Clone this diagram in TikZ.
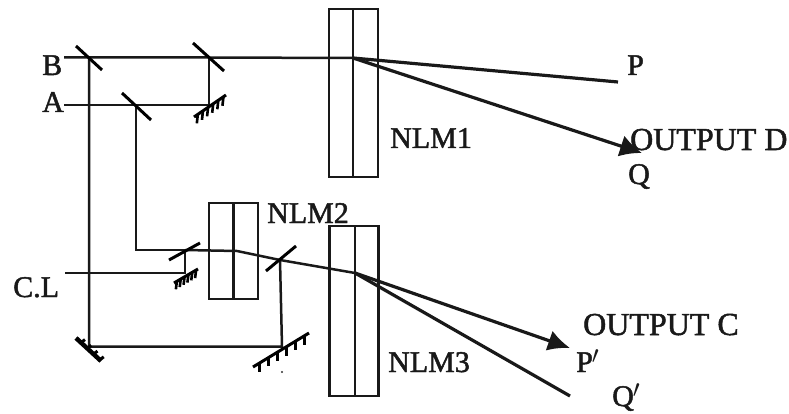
\documentclass[tikz,border=0pt]{standalone}
\usepackage{fontspec}
\setmainfont{Liberation Serif}
\newfontfamily\labfont[FakeBold=1.6]{Liberation Serif}
\usetikzlibrary{calc,arrows.meta}
\tikzset{
  beam/.style={line width=2.5pt,black!90},
  thick beam/.style={line width=3.2pt,black!90},
  mirror/.style={line width=3pt,black},
  crystal/.style={draw=black!90,line width=2.6pt,fill=none,inner sep=0pt,outer sep=0pt,minimum width=49pt,anchor=north west},
  divider/.style={line width=2.8pt,black!90},
  lab/.style={font=\labfont\fontsize{30}{30}\selectfont,inner sep=0pt,anchor=base west,black!90},
  outlab/.style={lab,font=\labfont\fontsize{32}{32}\selectfont},
  tick/.style={line width=2.6pt,black}
}
\newcommand{\hatchmirror}[4]{%
  \draw[mirror] (#1) -- (#2);
  \foreach \t in {0.12,0.28,...,0.95}
    \draw[tick] ($(#1)!\t!(#2)$) -- ++(#3,#4);
}
\newcommand{\primemark}{\kern-1pt\raisebox{0.28em}{$\prime$}}
\begin{document}
\begin{tikzpicture}[x=1pt,y=-1pt]
\useasboundingbox (0,0) rectangle (789,414);
% crystals
\node[crystal,minimum height=168pt] (nlm1) at (329,9) {};
\node[crystal,minimum height=170pt] (nlm3) at (329.5,226) {};
\node[crystal,minimum height=96pt] (nlm2) at (209,203) {};
\draw[divider] (nlm1.north) ++(-0.5,0) coordinate (d1t) -- (d1t |- nlm1.south);
\draw[divider] (nlm3.north) ++(1,0) coordinate (d3t) -- (d3t |- nlm3.south);
\draw[divider] (nlm2.north) coordinate (d2t) -- (d2t |- nlm2.south);
% beam points
\coordinate (Bs) at (64,57.5);
\coordinate (Mb) at (89,57.5);
\coordinate (M2) at (209,57.5);
\coordinate (C1) at (353,58);
\coordinate (M3) at (209,105);
\coordinate (As) at (64,105);
\coordinate (Ma) at (136,105);
\coordinate (Ka) at (136,250);
\coordinate (M4) at (185,250);
\coordinate (K2) at (237,251);
\coordinate (M5) at (280,260);
\coordinate (C3) at (355,273);
\coordinate (M6) at (185,273);
\coordinate (Cs) at (65,273);
\coordinate (M7) at (89,346.5);
\coordinate (M8) at (282,346.5);
\coordinate (Pe) at (618,82);
\coordinate (Qe) at (642,153);
\coordinate (Ppe) at (570,348);
\coordinate (Qpe) at (570,396);
% plain connectors
\draw[beam] (Bs) -- (M2) -- (C1);
\draw[beam] (M2) -- (M3) -- (As);
\draw[beam] (Mb) -- (M7) -- (M8) -- (M5);
\draw[beam] (Ma) -- (Ka) -- (M4);
\draw[beam] (Cs) -- (M6) -- (M4);
\draw[beam,line join=round] (M4) -- (K2) -- (M5) -- (C3);
% output beams
\draw[thick beam] (C1) -- (Pe);
\draw[thick beam,-{Latex[length=22pt,width=22pt]}] (C1) -- (Qe);
\draw[thick beam,-{Latex[length=22pt,width=21pt]}] (C3) -- (Ppe);
\draw[thick beam] (C3) -- (Qpe);
% plain mirrors
\coordinate (a1) at (76,46); \coordinate (a2) at (102,70);
\coordinate (b1) at (193,43); \coordinate (b2) at (224,71);
\coordinate (c1) at (122,93); \coordinate (c2) at (151,120);
\coordinate (d1) at (169,260); \coordinate (d2) at (200,243);
\coordinate (e1) at (266,271); \coordinate (e2) at (296,246);
\draw[mirror] (a1) -- (a2);
\draw[mirror] (b1) -- (b2);
\draw[mirror] (c1) -- (c2);
\draw[mirror] (d1) -- (d2);
\draw[mirror] (e1) -- (e2);
% hatched mirrors
\coordinate (f1) at (194,117); \coordinate (f2) at (226,95);
\hatchmirror{f1}{f2}{-1}{9}
\coordinate (g1) at (174,283); \coordinate (g2) at (198,269);
\hatchmirror{g1}{g2}{-1}{8}
\coordinate (h1) at (253,367); \coordinate (h2) at (309,333);
\hatchmirror{h1}{h2}{0}{9}
\coordinate (k1) at (76,338); \coordinate (k2) at (101,361);
\draw[line width=4.5pt,black] (k1) -- (k2);
\foreach \t in {0.2,0.45,0.7,0.95}
  \draw[line width=3pt,black] ($(k1)!\t!(k2)$) -- ++(4,-3);
% stray dot
\fill[black!80] (282,372) circle (1.2pt);
% labels
\node[lab] (lB) at (42,75) {B};
\node[lab] (lA) at (42,112) {A};
\node[lab] (lCL) at (13,297) {C.L};
\node[lab] (lN1) at (390,148) {NLM1};
\node[lab] (lN2) at (267,223) {NLM2};
\node[lab] (lN3) at (388,372) {NLM3};
\node[lab] (lP) at (627,75) {P};
\node[outlab] (lOD) at (630,150) {OUTPUT D};
\node[lab] (lQ) at (628,184) {Q};
\node[outlab] (lOC) at (583,335) {OUTPUT C};
\node[lab] (lPp) at (576,372) {P\primemark};
\node[lab] (lQp) at (612,406) {Q\primemark};
\end{tikzpicture}
\end{document}
